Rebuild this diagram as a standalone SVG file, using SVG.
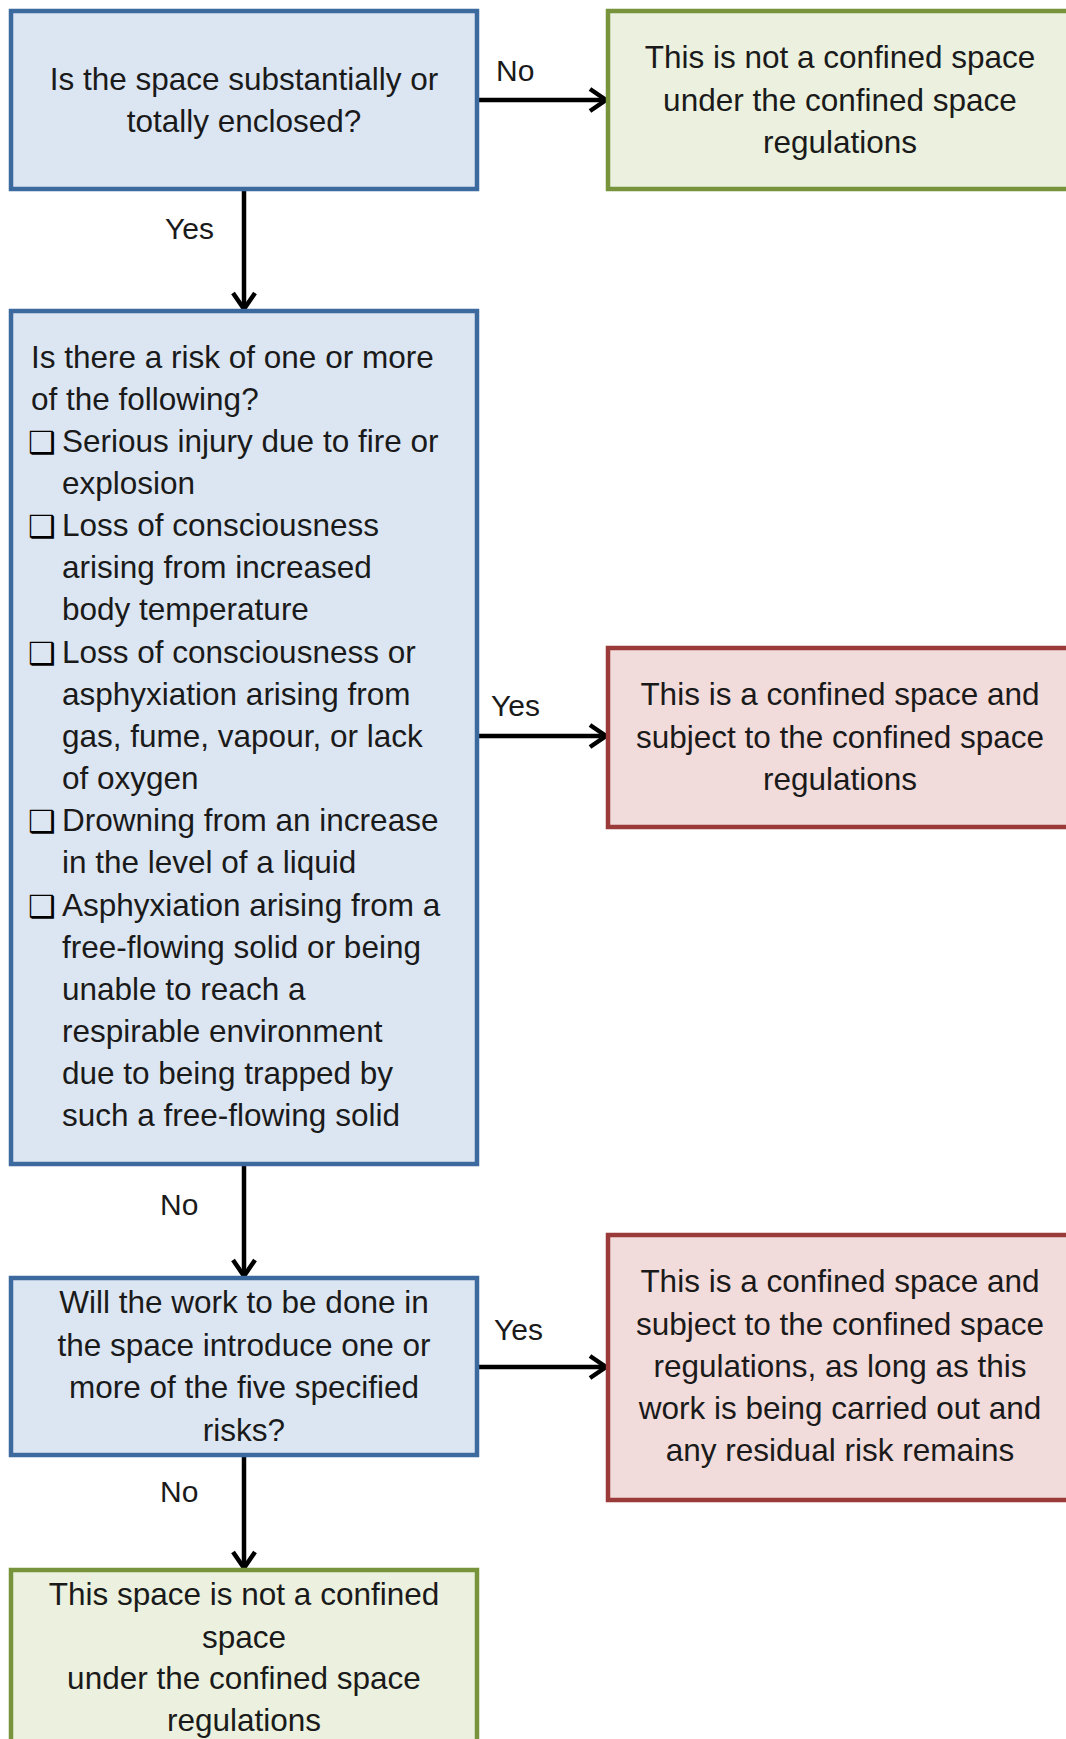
<svg xmlns="http://www.w3.org/2000/svg" width="1066" height="1739" viewBox="0 0 1066 1739">
<defs>
<style>
.t{font-family:"Liberation Sans",Arial,sans-serif;font-size:31.5px;fill:#1a1a1a}
.c{text-anchor:middle}
.lbl{font-family:"Liberation Sans",Arial,sans-serif;font-size:30px;fill:#1a1a1a}
.cb{font-family:"DejaVu Sans",sans-serif;font-size:31px;font-weight:bold;fill:#000}
.blue{fill:#dce6f2;stroke:#3d6a9e;stroke-width:4.5}
.green{fill:#ebf1de;stroke:#77933c;stroke-width:4.5}
.red{fill:#f2dcdb;stroke:#9b3b39;stroke-width:4.5}
.conn{stroke:#000;stroke-width:4.5;fill:none}
</style>
<marker id="arr" markerWidth="24" markerHeight="28" viewBox="0 0 24 28" refX="20" refY="14" orient="auto" markerUnits="userSpaceOnUse">
<path d="M4,3 L20,14 L4,25" fill="none" stroke="#000" stroke-width="4.5" stroke-linejoin="miter"/>
</marker>
</defs>
<rect width="1066" height="1739" fill="#fff"/>

<g id="connectors">
<line class="conn" x1="477" y1="100" x2="606" y2="100" marker-end="url(#arr)"/>
<line class="conn" x1="244" y1="189" x2="244" y2="309" marker-end="url(#arr)"/>
<line class="conn" x1="477" y1="736" x2="606" y2="736" marker-end="url(#arr)"/>
<line class="conn" x1="244" y1="1165" x2="244" y2="1276" marker-end="url(#arr)"/>
<line class="conn" x1="477" y1="1367" x2="606" y2="1367" marker-end="url(#arr)"/>
<line class="conn" x1="244" y1="1455" x2="244" y2="1568" marker-end="url(#arr)"/>
<text class="lbl" x="496" y="81">No</text>
<text class="lbl" x="165" y="239">Yes</text>
<text class="lbl" x="491" y="716">Yes</text>
<text class="lbl" x="160" y="1215">No</text>
<text class="lbl" x="494" y="1340">Yes</text>
<text class="lbl" x="160" y="1502">No</text>
</g>

<g id="q1">
<rect class="blue" x="11" y="11" width="466" height="178"/>
<text class="t c" x="244" y="90">Is the space substantially or</text>
<text class="t c" x="244" y="132">totally enclosed?</text>
</g>

<g id="notconfined1">
<rect class="green" x="608" y="11" width="470" height="178"/>
<text class="t c" x="840" y="68">This is not a confined space</text>
<text class="t c" x="840" y="111">under the confined space</text>
<text class="t c" x="840" y="153">regulations</text>
</g>

<g id="q2">
<rect class="blue" x="11" y="311" width="466" height="853"/>
<text class="t" x="31" y="368">Is there a risk of one or more</text>
<text class="t" x="31" y="410">of the following?</text>
<text class="cb" x="28" y="453">❑</text>
<text class="t" x="62" y="452">Serious injury due to fire or</text>
<text class="t" x="62" y="494">explosion</text>
<text class="cb" x="28" y="537">❑</text>
<text class="t" x="62" y="536">Loss of consciousness</text>
<text class="t" x="62" y="578">arising from increased</text>
<text class="t" x="62" y="620">body temperature</text>
<text class="cb" x="28" y="664">❑</text>
<text class="t" x="62" y="663">Loss of consciousness or</text>
<text class="t" x="62" y="705">asphyxiation arising from</text>
<text class="t" x="62" y="747">gas, fume, vapour, or lack</text>
<text class="t" x="62" y="789">of oxygen</text>
<text class="cb" x="28" y="832">❑</text>
<text class="t" x="62" y="831">Drowning from an increase</text>
<text class="t" x="62" y="873">in the level of a liquid</text>
<text class="cb" x="28" y="917">❑</text>
<text class="t" x="62" y="916">Asphyxiation arising from a</text>
<text class="t" x="62" y="958">free-flowing solid or being</text>
<text class="t" x="62" y="1000">unable to reach a</text>
<text class="t" x="62" y="1042">respirable environment</text>
<text class="t" x="62" y="1084">due to being trapped by</text>
<text class="t" x="62" y="1126">such a free-flowing solid</text>
</g>

<g id="confined1">
<rect class="red" x="608" y="648" width="470" height="179"/>
<text class="t c" x="840" y="705">This is a confined space and</text>
<text class="t c" x="840" y="748">subject to the confined space</text>
<text class="t c" x="840" y="790">regulations</text>
</g>

<g id="q3">
<rect class="blue" x="11" y="1278" width="466" height="177"/>
<text class="t c" x="244" y="1313">Will the work to be done in</text>
<text class="t c" x="244" y="1356">the space introduce one or</text>
<text class="t c" x="244" y="1398">more of the five specified</text>
<text class="t c" x="244" y="1441">risks?</text>
</g>

<g id="confined2">
<rect class="red" x="608" y="1235" width="470" height="265"/>
<text class="t c" x="840" y="1292">This is a confined space and</text>
<text class="t c" x="840" y="1335">subject to the confined space</text>
<text class="t c" x="840" y="1377">regulations, as long as this</text>
<text class="t c" x="840" y="1419">work is being carried out and</text>
<text class="t c" x="840" y="1461">any residual risk remains</text>
</g>

<g id="notconfined2">
<rect class="green" x="11" y="1570" width="466" height="180"/>
<text class="t c" x="244" y="1605">This space is not a confined</text>
<text class="t c" x="244" y="1648">space</text>
<text class="t c" x="244" y="1689">under the confined space</text>
<text class="t c" x="244" y="1731">regulations</text>
</g>
</svg>
